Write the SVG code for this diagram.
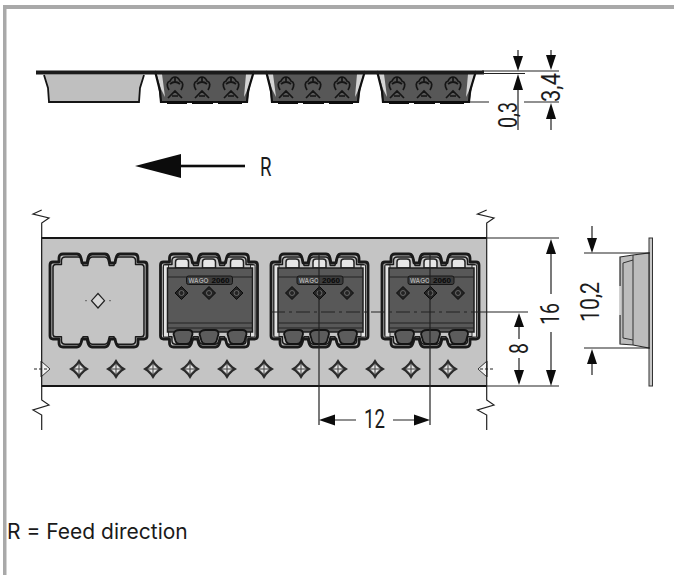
<svg xmlns="http://www.w3.org/2000/svg" xmlns:xlink="http://www.w3.org/1999/xlink" width="674" height="575" viewBox="0 0 674 575">
<style>
.dim{font-family:"Roboto","Liberation Sans",sans-serif;font-size:25px;fill:#1c1c1c}
.ln{stroke:#222;stroke-width:1.2;fill:none}
.ar{fill:#0c0c0c;stroke:none}
.ol{fill:none;stroke:#1a1a1a;stroke-linejoin:round}
</style>
<defs>
<path id="outline" d="M3 8 H9 V4 Q9 0 13 0 H27 Q30 0 31 4 L32 9 H37 L38 4 Q39 0 42 0 H55 Q58 0 59 4 L60 9 H65 L66 4 Q67 0 70 0 H84 Q88 0 88 4 V8 H94 Q97 8 97 11 V82 Q97 85 94 85 H88 V89 Q88 93 84 93 H70 Q67 93 66 89 L65 85 H60 L59 89 Q58 93 55 93 H42 Q39 93 38 89 L37 85 H32 L31 89 Q30 93 27 93 H13 Q9 93 9 89 V85 H3 Q0 85 0 82 V11 Q0 8 3 8 Z"/>
<g id="pocketEmpty">
<use xlink:href="#outline" fill="#c4c4c4" class="ol" stroke-width="2.8"/>
<use xlink:href="#outline" class="ol" stroke-width="1.6" transform="translate(3 3) scale(.938)"/>
</g>
<g id="pocketFull">
<use xlink:href="#pocketEmpty"/>
<rect x="3" y="11" width="5" height="72" fill="#e4e4e4" stroke="#222" stroke-width=".9"/>
<rect x="90" y="11" width="4.500" height="72" fill="#e4e4e4" stroke="#222" stroke-width=".9"/>
<path fill="#e6e6e6" stroke="#222" stroke-width="1.500" d="M15 14 V8 Q15 5 18 5 H25 Q28 5 28 8 V14 Z M42 14 V8 Q42 5 45 5 H52 Q55 5 55 8 V14 Z M70 14 V8 Q70 5 73 5 H80 Q83 5 83 8 V14 Z"/>
<rect x="7" y="14" width="85" height="64" fill="#585858" stroke="#1c1c1c" stroke-width="1.500"/>
<path d="M7 23 H92 M7 69 H92 M7 74 H92" stroke="#222" stroke-width="1" fill="none"/>
<path d="M13 80 Q14 76 19 76 H28 Q32 76 32 80 L30 87 Q29 90 26 90 H19 Q16 90 15 87 Z M39 80 Q40 76 45 76 H54 Q58 76 58 80 L56 87 Q55 90 52 90 H45 Q42 90 41 87 Z M67 80 Q68 76 73 76 H82 Q86 76 86 80 L84 87 Q83 90 80 90 H73 Q70 90 69 87 Z" fill="#5c5c5c" stroke="#141414" stroke-width="1.800"/>
<rect x="26" y="22" width="46" height="8.500" rx="2" fill="#3c3c3c" stroke="#161616"/>
<text x="28" y="29" font-family="Liberation Sans,sans-serif" font-size="7" font-weight="700" fill="#aaa" textLength="20" lengthAdjust="spacingAndGlyphs">WAGO</text>
<text x="51" y="29" font-family="Liberation Sans,sans-serif" font-size="7" font-weight="700" fill="#0a0a0a" textLength="18" lengthAdjust="spacingAndGlyphs">2060</text>
<g fill="#242424" stroke="#0c0c0c">
<path d="M21 32.500 L27.500 39 L21 45.500 L14.500 39 Z"/>
<path d="M48.500 32.500 L55 39 L48.500 45.500 L42 39 Z"/>
<path d="M76 32.500 L82.500 39 L76 45.500 L69.500 39 Z"/>
</g>
<g fill="none" stroke="#777" stroke-width=".8"><circle cx="21" cy="39" r="2.500"/><circle cx="48.500" cy="39" r="2.500"/><circle cx="76" cy="39" r="2.500"/></g>
</g>
<g id="hole">
<path d="M0 -10 L2.500 -6 L6 -2.500 L10 0 L6 2.500 L2.500 6 L0 10 L-2.500 6 L-6 2.500 L-10 0 L-6 -2.500 L-2.500 -6 Z" fill="#2a2a2a"/>
<path d="M0 -5.500 L5.500 0 L0 5.500 L-5.500 0 Z" fill="#e2e2e2" stroke="#333" stroke-width=".6"/>
<path d="M0 -5 V5 M-5 0 H5" stroke="#444" stroke-width="1"/>
</g>
<g id="side">
<path d="M1 0 L98 0 L93 28 L92 32 L6 32 L5 28 Z" fill="#575757"/>
<path d="M1 1 L7 3 L10 26 L6 18 Z M98 1 L91 3 L89 26 L93 18 Z" fill="#d4d4d4"/>
<path d="M0 0 L5 20 L6 31 H92 L93 20 L99 0" fill="none" stroke="#101010" stroke-width="2.200"/>
<path d="M12 31.500 H32 M37 31.500 H58 M63 31.500 H87" stroke="#0c0c0c" stroke-width="3"/>
<g fill="none" stroke="#151515" stroke-width="1.700">
<path id="g1" d="M14 19 Q10 12 15 10 Q17 6 20 6 Q23 6 25 10 Q30 12 26 19 M20 6 V12 M15 13 Q20 9 25 13 M13 27 L20 20 L27 27 M17 25 H23"/>
<path d="M41 19 Q37 12 42 10 Q44 6 47 6 Q50 6 52 10 Q57 12 53 19 M47 6 V12 M42 13 Q47 9 52 13 M40 27 L47 20 L54 27 M44 25 H50"/>
<path d="M70 19 Q66 12 71 10 Q73 6 76 6 Q79 6 81 10 Q86 12 82 19 M76 6 V12 M71 13 Q76 9 81 13 M69 27 L76 20 L83 27 M73 25 H79"/>
</g>
</g>
</defs>

<rect width="674" height="575" fill="#fff"/>
<g id="frame" fill="#a9a9a9">
<rect x="3" y="5" width="671" height="4"/>
<rect x="3" y="5" width="3.500" height="570"/>
</g>

<g id="side-view-top">
<path d="M44 75 L144 75 L140 88 L139 102 L49 102 L48 88 Z" fill="#bfbfbf"/>
<path d="M44 75 L48 88 L49 102 H139 L140 88 L144 75" fill="none" stroke="#151515" stroke-width="1.800"/>
<use xlink:href="#side" transform="translate(155 71)"/>
<use xlink:href="#side" transform="translate(266 71)"/>
<use xlink:href="#side" transform="translate(377 71)"/>
<rect x="36" y="70.500" width="448" height="4" fill="#1b1b1b"/>
</g>

<g id="arrow-R">
<path class="ar" d="M135 166 L181 154 V178 Z"/>
<rect class="ar" x="180" y="164.700" width="65" height="2.600"/>
<text x="260" y="176" class="dim" textLength="11.500" lengthAdjust="spacingAndGlyphs">R</text>
</g>

<g id="strip">
<rect x="41" y="238" width="446" height="148" fill="#c4c4c4"/>
<path d="M41 238 H487 M41 386 H487" stroke="#151515" stroke-width="1.800" fill="none"/>
<path d="M41.500 238 V386" stroke="#444" stroke-width="1"/>
</g>

<g id="pocket-1">
<use xlink:href="#pocketEmpty" transform="translate(50 254)"/>
<path d="M98 293.500 L104.500 300.700 L98 308 L91.500 300.700 Z" fill="#d8d8d8" stroke="#222" stroke-width="1.200"/>
<path d="M85 300.700 H87 M109 300.700 H111" stroke="#666"/>
</g>
<g id="pocket-2"><use xlink:href="#pocketFull" transform="translate(160.500 254)"/></g>
<g id="pocket-3"><use xlink:href="#pocketFull" transform="translate(271 254)"/></g>
<g id="pocket-4"><use xlink:href="#pocketFull" transform="translate(382 254)"/></g>

<g id="holes">
<use xlink:href="#hole" x="79" y="369"/><use xlink:href="#hole" x="116" y="369"/>
<use xlink:href="#hole" x="153" y="369"/><use xlink:href="#hole" x="190" y="369"/>
<use xlink:href="#hole" x="227" y="369"/><use xlink:href="#hole" x="264" y="369"/>
<use xlink:href="#hole" x="301" y="369"/><use xlink:href="#hole" x="338" y="369"/>
<use xlink:href="#hole" x="375" y="369"/><use xlink:href="#hole" x="411" y="369"/>
<use xlink:href="#hole" x="448" y="369"/>
<path d="M41 361 L50 369 L41 377 Z" fill="#f2f2f2" stroke="#333"/>
<path d="M487 361 L478 369 L487 377 Z" fill="#f2f2f2" stroke="#333"/>
<path d="M34 369 H48 M480 369 H494" stroke="#222" stroke-dasharray="3 2"/>
</g>

<g id="side-view-right">
<rect x="649" y="238" width="3.500" height="148" fill="#c8c8c8" stroke="#333" stroke-width="1"/>
<path d="M620 257 L633 255 L649 253 V348 L633 345 L620 344 Z" fill="#bcbcbc" stroke="#2a2a2a" stroke-width="1.200"/>
<path d="M633 255 V345 M623 263 L633 260 M623 338 L633 340 M623 263 V338" stroke="#333" stroke-width="1" fill="none"/>
<path d="M620 286 V315" stroke="#eee" stroke-width="1.500"/>
</g>

<g id="connectors">
<path class="ln" d="M41.700 210 L33 214 L49 218 L41.700 223 V400 L49 405 L33 410 L41.700 415 V430"/>
<path class="ln" d="M486.700 210 L477.500 214 L494 218 L486.700 223 V400 L494 405 L477.500 410 L486.700 415 V430"/>
<path class="ln" stroke-width="1" d="M482 71 H559 M482 73.500 H525 M470 102 H489 M524 102 H559 M487 238 H559 M478 312 H528 M487 386 H559 M584 253 H650 M584 348 H650"/>
<path class="ln" d="M319 254 V425 M430 254 V425"/>
<path class="ln" stroke-dasharray="14 4 3 4" d="M271 312 H478" stroke-width="1"/>

<path class="ln" d="M518 50 V58 M518 88 V130 M551 50 V58 M551 118 V130 M551 252 V294 M551 332 V372 M519 325 V339 M519 358 V372 M592 226 V240 M592 362 V375 M332 420 H356 M393 420 H416"/>
<path class="ar" d="M513 56 H523 L518 71 Z M513 90 H523 L518 74 Z M546 55 H556 L551 70 Z M546 119 H556 L551 103 Z M546 254 H556 L551 239 Z M546 370 H556 L551 386 Z M514 327 H524 L519 313 Z M514 370 H524 L519 385 Z M587 238 H597 L592 253 Z M587 364 H597 L592 349 Z M335 414.500 V425.500 L319 420 Z M414 414.500 V425.500 L430 420 Z"/>

<text class="dim" transform="translate(517 128) rotate(-90)" textLength="26" lengthAdjust="spacingAndGlyphs">0,3</text>
<text class="dim" transform="translate(560 102) rotate(-90)" textLength="29" lengthAdjust="spacingAndGlyphs">3,4</text>
<text class="dim" transform="translate(559 325) rotate(-90)" textLength="22" lengthAdjust="spacingAndGlyphs">16</text>
<text class="dim" transform="translate(528 354) rotate(-90)" textLength="11" lengthAdjust="spacingAndGlyphs">8</text>
<text class="dim" transform="translate(599 322) rotate(-90)" textLength="40" lengthAdjust="spacingAndGlyphs">10,2</text>
<text class="dim" x="364" y="428" textLength="21" lengthAdjust="spacingAndGlyphs">12</text>
</g>

<text id="caption" x="7" y="539" font-family="Inter,'Liberation Sans',sans-serif" font-size="21" fill="#1a1a1a">R = Feed direction</text>
</svg>
